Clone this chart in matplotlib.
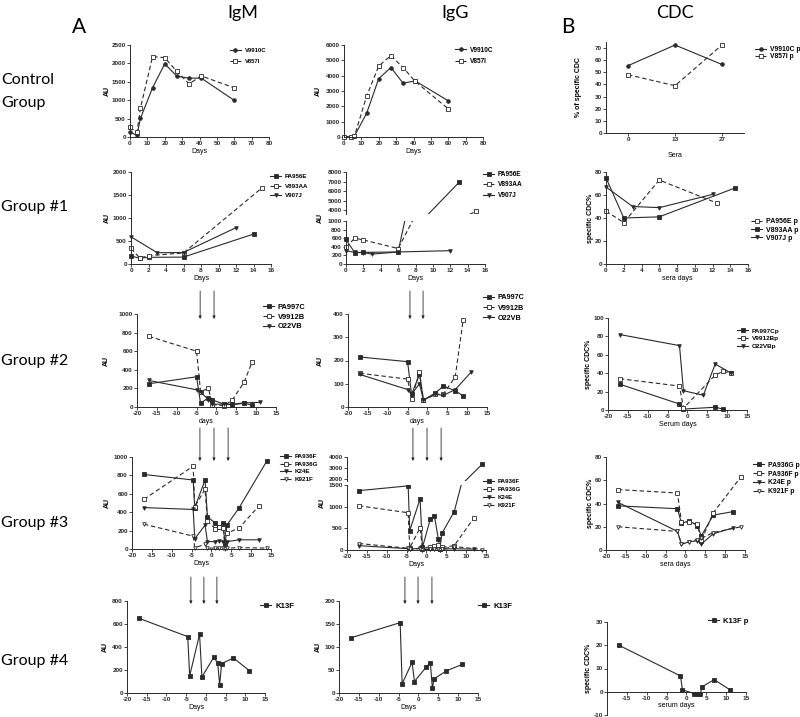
import matplotlib
matplotlib.use('Agg')
import matplotlib.pyplot as plt
from matplotlib.transforms import Bbox, TransformedBbox

plt.rcParams['font.family'] = ['Liberation Sans', 'DejaVu Sans']
plt.rcParams['font.weight'] = 'bold'
plt.rcParams['axes.unicode_minus'] = False

INK = '#2a2a2a'
W, H = 800, 717

# ---------------- data ----------------
# control group
ctrl_days = [0, 4, 6, 13, 20, 27, 34, 41, 60]
ctrl_igm_v9910c = [130, 45, 505, 1340, 1990, 1650, 1600, 1600, 995]
ctrl_igm_v857i = [260, 125, 785, 2185, 2155, 1780, 1445, 1660, 1335]
ctrl_igg_v9910c = [20, 10, 60, 1540, 3810, 4530, 3510, 3660, 2360]
ctrl_igg_v857i = [10, 20, 50, 2660, 4630, 5310, 4530, 3620, 1840]
ctrl_sera = ['0', '13', '27']
ctrl_cdc_v9910c = [55.5, 72.5, 56.5]
ctrl_cdc_v857i = [48, 39, 72.5]

# group 1
g1_igm_pa956e_x = [0, 1, 2, 6, 14]
g1_igm_pa956e = [175, 125, 145, 150, 650]
g1_igm_v893aa_x = [0, 1, 2, 6, 15]
g1_igm_v893aa = [340, 130, 180, 240, 1660]
g1_igm_v907j_x = [0, 3, 6, 12]
g1_igm_v907j = [590, 245, 250, 790]

g1_igg_pa956e_x = [0, 1, 2, 6, 13]
g1_igg_pa956e = [570, 265, 270, 280, 6900]
g1_igg_v893aa_x = [0, 1, 2, 6, 15]
g1_igg_v893aa = [390, 600, 560, 360, 3850]
g1_igg_v907j_x = [0, 1, 2, 3, 6, 12]
g1_igg_v907j = [310, 270, 265, 230, 280, 310]

g1_cdc_pa956e_x = [0, 2, 6, 12.5]
g1_cdc_pa956e = [46, 36, 73, 53]
g1_cdc_v893aa_x = [0, 2, 6, 14.5]
g1_cdc_v893aa = [75, 40, 41, 66]
g1_cdc_v907j_x = [0, 3, 6, 12]
g1_cdc_v907j = [67, 50, 49, 60.5]

# group 2
g2_days = [-17, -5, -4, -2, -1, 2, 4, 7, 9]
g2_days_o22 = [-17, -5, -4, -2, -1, 2, 4, 7, 11]
g2_igm_pa997c = [250, 325, 40, 100, 75, 30, 25, 40, 20]
g2_igm_v9912b = [760, 600, 165, 200, 25, 15, 75, 270, 485]
g2_igm_o22vb = [285, 185, 160, 80, 30, 30, 30, 45, 50]
g2_igg_pa997c = [215, 195, 55, 140, 30, 60, 90, 70, 48]
g2_igg_v9912b = [145, 120, 35, 150, 30, 55, 55, 130, 375]
g2_igg_o22vb = [140, 75, 55, 100, 30, 55, 50, 75, 150]
g2_cdc_pa997c_x = [-17, -2, -1, 7, 9]
g2_cdc_pa997c = [28, 6.5, 1, 3, 1]
g2_cdc_v9912b_x = [-17, -2, -1, 7, 9, 11]
g2_cdc_v9912b = [34, 26, 2, 38, 42, 40]
g2_cdc_o22vb_x = [-17, -2, -1, 4, 7, 11]
g2_cdc_o22vb = [82, 70, 21, 16, 50, 40]

# group 3
g3_days_a = [-17, -4.6, -4.2, -1.6, -1, 1, 2, 3, 3.4, 3.9, 7, 14]
g3_days_b = [-17, -4.6, -4.2, -1.6, -1, 1, 2, 3, 3.4, 3.9, 7, 12]
g3_igm_pa936f = [810, 750, 450, 750, 350, 280, 240, 280, 30, 260, 450, 960]
g3_igm_pa936g = [540, 900, 460, 650, 300, 220, 240, 230, 20, 170, 230, 470]
g3_igm_k24e = [450, 430, 110, 260, 80, 80, 90, 80, 10, 80, 100, 100]
g3_igm_k921f = [270, 140, 15, 50, 10, 10, 10, 10, 5, 10, 15, 10]
g3_igg_pa936f = [1370, 1480, 450, 1180, 60, 720, 790, 255, 30, 385, 885, 3340]
g3_igg_pa936g = [1020, 860, 50, 510, 30, 80, 100, 110, 20, 60, 100, 745]
g3_igg_k24e = [100, 30, 20, 40, 10, 20, 30, 30, 10, 20, 30, 20]
g3_igg_k921f = [150, 40, 20, 30, 10, 20, 20, 20, 10, 20, 80, 10]
g3_cdc_days_a = [-17, -2, -1, 1, 3, 4, 7, 12]
g3_cdc_days_b = [-17, -2, -1, 1, 3, 4, 7, 14]
g3_cdc_pa936g = [38, 35.5, 23, 25, 21, 12, 30, 33]
g3_cdc_pa936f = [52, 49, 24, 24, 22, 8, 32, 63]
g3_cdc_k24e = [41, 16, 5, 7, 8, 5, 14, 19]
g3_cdc_k921f = [20, 16, 5, 7, 9, 10, 15, 20]

# group 4
g4_days = [-17, -4.6, -4.1, -1.6, -1, 2, 3, 3.5, 4, 7, 11]
g4_igm_k13f = [650, 490, 150, 510, 140, 310, 260, 70, 255, 305, 195]
g4_igg_k13f = [120, 153, 20, 67, 25, 57, 66, 11, 31, 48, 62]
g4_cdc_days = [-17, -1.5, -1, 2, 3, 3.5, 4, 7, 11]
g4_cdc_k13f = [20, 6.8, 0.8, -0.8, -0.8, -0.8, 2.2, 5.2, 0.8]

# treatment arrows (days)
g2_arrows_igm = [-4.1, -0.6]
g2_arrows_igg = [-4.4, -1.1]
g3_arrows_igm = [-2.9, 0.65, 4.2]
g3_arrows_igg = [-3.4, 0.15, 3.7]
g4_arrows_igm = [-3.8, -0.5, 2.8]
g4_arrows_igg = [-3.4, -0.1, 3.4]

DASH = (0, (4, 2.5))
STY = {
    'fo': dict(marker='o', ls='-', mfc=INK),
    'fs': dict(marker='s', ls='-', mfc=INK),
    'os': dict(marker='s', ls=DASH, mfc='white'),
    'fv': dict(marker='v', ls='-', mfc=INK),
    'ov': dict(marker='v', ls=DASH, mfc='white'),
}

fig = plt.figure(figsize=(W / 100, H / 100), dpi=100)


def fx(x):
    return x / W


def fy(y):
    return 1 - y / H


def rect(l, t, r, b):
    return [fx(l), fy(b), (r - l) / W, (b - t) / H]


def make_ax(box, xlim, xticks, ylim, yticks, hide_x=False):
    ax = fig.add_axes(rect(*box))
    ax.spines['top'].set_visible(False)
    ax.spines['right'].set_visible(False)
    for s in ax.spines.values():
        s.set_linewidth(0.7)
        s.set_color(INK)
    ax.set_xlim(xlim)
    ax.set_ylim(ylim)
    ax.set_xticks(xticks)
    ax.set_yticks(yticks)
    ax.tick_params(length=2, width=0.6, pad=1, labelsize=4.6, colors=INK)
    ax.patch.set_alpha(0)
    if hide_x:
        ax.spines['bottom'].set_visible(False)
        ax.tick_params(axis='x', bottom=False, labelbottom=False)
    return ax


def draw(ax, series, clip=None):
    for x, y, key, label in series:
        ln, = ax.plot(x, y, color=INK, lw=0.8, ms=2.6, mew=0.6, mec=INK,
                      label=label, clip_on=clip is not None, **STY[key])
        if clip is not None:
            ln.set_clip_box(TransformedBbox(Bbox(clip), ax.transAxes))


def legend(ax, x, y, fs, gap):
    fpx = fs * 100 / 72
    ax.legend(loc='center left', bbox_to_anchor=(fx(x), fy(y)),
              bbox_transform=fig.transFigure, frameon=False, fontsize=fs,
              borderpad=0, borderaxespad=0, handlelength=11 / fpx,
              handletextpad=4 / fpx, labelspacing=max(0, gap / fpx - 1.15))


def ylab(x, yc, text):
    fig.text(fx(x), fy(yc), text, rotation=90, ha='center', va='center', fontsize=5)


def panel(box, xlim, xticks, ylim, yticks, series, xlabel, ylabel, ylab_x, leg, pad=1):
    ax = make_ax(box, xlim, xticks, ylim, yticks)
    draw(ax, series)
    ax.set_xlabel(xlabel, fontsize=5, labelpad=pad)
    ylab(ylab_x, (box[1] + box[3]) / 2, ylabel)
    legend(ax, *leg)
    return ax


def broken(box_hi, box_lo, xlim, xticks, ylim_hi, yt_hi, ylim_lo, yt_lo, series, xlabel, ylabel, ylab_x, leg):
    hi = make_ax(box_hi, xlim, xticks, ylim_hi, yt_hi, hide_x=True)
    lo = make_ax(box_lo, xlim, xticks, ylim_lo, yt_lo)
    draw(hi, series, clip=[[-0.05, 0], [1.05, 1.05]])
    draw(lo, series, clip=[[-0.05, -0.05], [1.05, 1]])
    lo.set_xlabel(xlabel, fontsize=5, labelpad=1)
    ylab(ylab_x, (box_hi[1] + box_lo[3]) / 2, ylabel)
    legend(hi, *leg)
    return hi, lo


def arrows(ax, days, y0, y1):
    for d in days:
        ax.annotate('', xy=(d, fy(y1)), xytext=(d, fy(y0)),
                    xycoords=('data', 'figure fraction'),
                    textcoords=('data', 'figure fraction'),
                    arrowprops=dict(arrowstyle='-|>', color=INK, lw=0.6,
                                    mutation_scale=4, shrinkA=0, shrinkB=0),
                    annotation_clip=False)


X16 = list(range(0, 17, 2))
X35 = list(range(-20, 16, 5))

# ---------------- control group ----------------
panel((130, 45, 269, 137), (0, 80), list(range(0, 81, 10)), (0, 2500), list(range(0, 2501, 500)),
      [(ctrl_days, ctrl_igm_v9910c, 'fo', 'V9910C'), (ctrl_days, ctrl_igm_v857i, 'os', 'V857I')],
      'Days', 'AU', 107, (230, 56, 4.2, 12))
panel((344, 45, 483, 137), (0, 80), list(range(0, 81, 10)), (0, 6000), list(range(0, 6001, 1000)),
      [(ctrl_days, ctrl_igg_v9910c, 'fo', 'V9910C'), (ctrl_days, ctrl_igg_v857i, 'os', 'V857I')],
      'Days', 'AU', 318, (455, 56, 4.7, 12))
cx = list(range(len(ctrl_sera)))
ax = panel((606, 42, 744, 133), (-0.47, 2.47), cx, (0, 75), list(range(0, 71, 10)),
           [(cx, ctrl_cdc_v9910c, 'fo', 'V9910C p'), (cx, ctrl_cdc_v857i, 'os', 'V857I p')],
           'Sera', '% of specific CDC', 579, (755, 53, 4.9, 8), pad=7)
ax.set_xticklabels(ctrl_sera)

# ---------------- group 1 ----------------
panel((131, 172, 271, 264), (0, 16), X16, (0, 2000), list(range(0, 2001, 500)),
      [(g1_igm_pa956e_x, g1_igm_pa956e, 'fs', 'PA956E'),
       (g1_igm_v893aa_x, g1_igm_v893aa, 'os', 'V893AA'),
       (g1_igm_v907j_x, g1_igm_v907j, 'fv', 'V907J')],
      'Days', 'AU', 107, (270, 186, 4.4, 11.5))
broken((346, 172, 485, 214), (346, 221, 485, 264), (0, 16), X16,
       (3580, 8000), list(range(4000, 8001, 1000)), (0, 1000), list(range(0, 1001, 200)),
       [(g1_igg_pa956e_x, g1_igg_pa956e, 'fs', 'PA956E'),
        (g1_igg_v893aa_x, g1_igg_v893aa, 'os', 'V893AA'),
        (g1_igg_v907j_x, g1_igg_v907j, 'fv', 'V907J')],
       'Days', 'AU', 320, (483, 185, 4.7, 11))
panel((606, 172, 748, 264), (0, 16), X16, (0, 80), list(range(0, 81, 20)),
      [(g1_cdc_pa956e_x, g1_cdc_pa956e, 'os', 'PA956E p'),
       (g1_cdc_v893aa_x, g1_cdc_v893aa, 'fs', 'V893AA p'),
       (g1_cdc_v907j_x, g1_cdc_v907j, 'fv', 'V907J p')],
      'sera days', 'specific CDC%', 590, (751, 230, 5, 9))

# ---------------- group 2 ----------------
ax = panel((137, 314, 276, 407), (-20, 15), X35, (0, 1000), list(range(0, 1001, 200)),
           [(g2_days, g2_igm_pa997c, 'fs', 'PA997C'),
            (g2_days, g2_igm_v9912b, 'os', 'V9912B'),
            (g2_days_o22, g2_igm_o22vb, 'fv', 'O22VB')],
           'days', 'AU', 106, (263, 317, 5.4, 11))
arrows(ax, g2_arrows_igm, 291, 319)
ax = panel((348, 314, 487, 407), (-20, 15), X35, (0, 400), list(range(0, 401, 100)),
           [(g2_days, g2_igg_pa997c, 'fs', 'PA997C'),
            (g2_days, g2_igg_v9912b, 'os', 'V9912B'),
            (g2_days_o22, g2_igg_o22vb, 'fv', 'O22VB')],
           'days', 'AU', 320, (483, 308, 5.2, 11.5))
arrows(ax, g2_arrows_igg, 291, 319)
panel((608, 318, 747, 410), (-20, 15), X35, (0, 100), list(range(0, 101, 20)),
      [(g2_cdc_pa997c_x, g2_cdc_pa997c, 'fs', 'PA997Cp'),
       (g2_cdc_v9912b_x, g2_cdc_v9912b, 'os', 'V9912Bp'),
       (g2_cdc_o22vb_x, g2_cdc_o22vb, 'fv', 'O22VBp')],
      'Serum days', 'specific CDC%', 589, (737, 338.5, 4.6, 9.5))

# ---------------- group 3 ----------------
ax = panel((132, 457, 271, 549), (-20, 15), X35, (0, 1000), list(range(0, 1001, 200)),
           [(g3_days_a, g3_igm_pa936f, 'fs', 'PA936F'),
            (g3_days_b, g3_igm_pa936g, 'os', 'PA936G'),
            (g3_days_b, g3_igm_k24e, 'fv', 'K24E'),
            (g3_days_a, g3_igm_k921f, 'ov', 'K921F')],
           'Days', 'AU', 107, (280, 468, 4.5, 9.3))
arrows(ax, g3_arrows_igm, 428, 461)
hi, lo = broken((347, 457, 486, 481), (347, 485, 486, 550), (-20, 15), X35,
                (1850, 4000), [2000, 3000, 4000], (0, 1500), list(range(0, 1501, 500)),
                [(g3_days_a, g3_igg_pa936f, 'fs', 'PA936F'),
                 (g3_days_b, g3_igg_pa936g, 'os', 'PA936G'),
                 (g3_days_b, g3_igg_k24e, 'fv', 'K24E'),
                 (g3_days_a, g3_igg_k921f, 'ov', 'K921F')],
                'Days', 'AU', 322, (483, 493.5, 4.4, 9.7))
arrows(hi, g3_arrows_igg, 428, 461)
panel((606, 457, 745, 550), (-20, 15), X35, (0, 80), list(range(0, 81, 20)),
      [(g3_cdc_days_a, g3_cdc_pa936g, 'fs', 'PA936G p'),
       (g3_cdc_days_b, g3_cdc_pa936f, 'os', 'PA936F p'),
       (g3_cdc_days_a, g3_cdc_k24e, 'fv', 'K24E p'),
       (g3_cdc_days_b, g3_cdc_k921f, 'ov', 'K921F p')],
      'sera days', 'specific CDC%', 590, (753, 478.5, 4.9, 9.7))

# ---------------- group 4 ----------------
ax = panel((127, 601, 265, 693), (-20, 15), X35, (0, 800), list(range(0, 801, 200)),
           [(g4_days, g4_igm_k13f, 'fs', 'K13F')],
           'Days', 'AU', 105, (260, 606, 5.6, 0))
arrows(ax, g4_arrows_igm, 577, 604)
ax = panel((339, 601, 478, 693), (-20, 15), X35, (0, 200), list(range(0, 201, 50)),
           [(g4_days, g4_igg_k13f, 'fs', 'K13F')],
           'Days', 'AU', 318, (478, 606, 5.6, 0))
arrows(ax, g4_arrows_igg, 577, 604)
ax = panel((607, 622, 746, 715), (-20, 15), list(range(-15, 16, 5)), (-10, 30), list(range(-10, 31, 10)),
           [(g4_cdc_days, g4_cdc_k13f, 'fs', 'K13F p')],
           'serum days', 'specific CDC%', 588, (708, 621, 5.5, 0))
ax.spines['bottom'].set_position(('data', 0))

# ---------------- headings ----------------
HEAD = ['Lato', 'DejaVu Sans']
for x, t in [(243, 'IgM'), (455, 'IgG'), (675, 'CDC')]:
    fig.text(fx(x), fy(13), t, ha='center', va='center', fontsize=13, family=HEAD, weight='normal')
fig.text(fx(79), fy(27), 'A', ha='center', va='center', fontsize=15, family=HEAD, weight='normal')
fig.text(fx(568), fy(27), 'B', ha='center', va='center', fontsize=15, family=HEAD, weight='normal')
for y, t in [(80, 'Control'), (103, 'Group'), (207, 'Group #1'), (361, 'Group #2'),
             (523, 'Group #3'), (661, 'Group #4')]:
    fig.text(fx(1), fy(y), t, ha='left', va='center', fontsize=11.5, family=HEAD,
             weight='normal')

fig.savefig('out.png', dpi=100)
